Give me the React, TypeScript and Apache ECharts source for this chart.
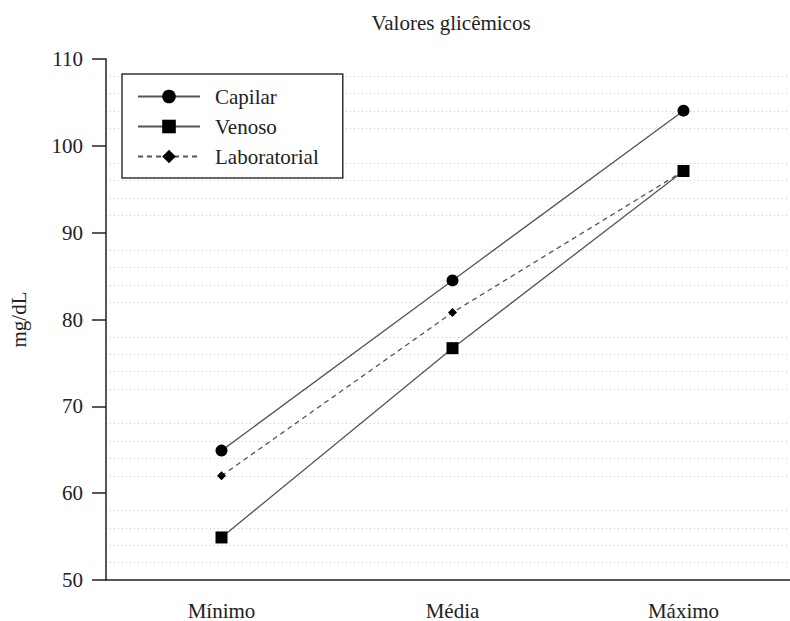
import React, { useEffect, useRef } from "react";
import * as echarts from "echarts";

const categories = ["Mínimo", "Média", "Máximo"];
const capilar = [64.9, 84.5, 104.05];
const venoso = [54.9, 76.7, 97.1];
const laboratorial = [62.0, 80.8, 97.1];
const seriesNames = ["Capilar", "Venoso", "Laboratorial"];
const titleText = "Valores glicêmicos";
const yName = "mg/dL";

const FONT = "'Liberation Serif', 'Times New Roman', serif";

export default function App() {
  const ref = useRef<HTMLDivElement>(null);
  useEffect(() => {
    const chart = echarts.init(ref.current!, null, { renderer: "svg" });
    const lineColor = "#555";
    chart.setOption({
      animation: false,
      backgroundColor: "#fff",
      textStyle: { fontFamily: FONT },
      title: {
        text: titleText,
        left: 446,
        textAlign: "center",
        top: 7,
        textStyle: { fontFamily: FONT, fontSize: 21, fontWeight: "normal", color: "#222" },
      },
      legend: {
        orient: "vertical",
        left: 122,
        top: 74,
        padding: [12, 24, 11, 15],
        itemWidth: 62,
        itemHeight: 17,
        itemGap: 9,
        borderColor: "#333",
        borderWidth: 1.5,
        backgroundColor: "#fff",
        textStyle: { fontFamily: FONT, fontSize: 21, color: "#222", padding: [0, 0, 0, 10] },
        data: seriesNames,
      },
      grid: { left: 105, top: 59, width: 694, height: 521 },
      xAxis: {
        type: "category",
        data: categories,
        boundaryGap: true,
        axisLine: { show: true, lineStyle: { color: "#222", width: 1.5 } },
        axisTick: { show: false },
        axisLabel: { fontFamily: FONT, fontSize: 21, color: "#222", margin: 20 },
        splitLine: { show: false },
      },
      yAxis: {
        type: "value",
        min: 50,
        max: 110,
        interval: 10,
        name: yName,
        nameLocation: "middle",
        nameGap: 77,
        nameTextStyle: { fontFamily: FONT, fontSize: 21, color: "#222" },
        axisLine: { show: true, lineStyle: { color: "#222", width: 1.5 } },
        axisTick: { show: true, inside: false, length: 14, lineStyle: { color: "#222", width: 1.5 } },
        axisLabel: { fontFamily: FONT, fontSize: 21, color: "#222", margin: 23 },
        splitLine: { show: false },
        minorTick: { show: false, splitNumber: 5 },
        minorSplitLine: { show: true, lineStyle: { color: "#c8c8c8", width: 1, type: [1, 3] } },
      },
      series: [
        {
          name: seriesNames[0],
          type: "line",
          data: capilar,
          symbol: "circle",
          symbolSize: 12,
          itemStyle: { color: "#000" },
          lineStyle: { color: lineColor, width: 1.3, type: "solid" },
          z: 3,
        },
        {
          name: seriesNames[1],
          type: "line",
          data: venoso,
          symbol: "rect",
          symbolSize: 12,
          itemStyle: { color: "#000" },
          lineStyle: { color: lineColor, width: 1.3, type: "solid" },
          z: 4,
        },
        {
          name: seriesNames[2],
          type: "line",
          data: laboratorial,
          symbol: "diamond",
          symbolSize: 9,
          itemStyle: { color: "#000" },
          lineStyle: { color: lineColor, width: 1.3, type: [5, 4] },
          z: 2,
        },
      ],
    });
    return () => chart.dispose();
  }, []);
  return (
    <div
      style={{
        position: "fixed",
        left: 0,
        top: 0,
        width: 790,
        height: 621,
        overflow: "hidden",
        background: "#fff",
      }}
    >
      <div ref={ref} style={{ width: 810, height: 621 }} />
    </div>
  );
}
